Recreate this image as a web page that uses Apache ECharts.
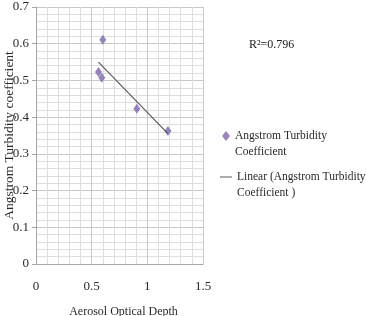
<!DOCTYPE html>
<html><head><meta charset="utf-8">
<script src="https://cdn.jsdelivr.net/npm/echarts@6/dist/echarts.min.js"></script>
<style>html,body{margin:0;padding:0;background:#fff}#c{width:366px;height:316px}</style>
</head><body><div id="c"></div>
<script>
var aodValues = [0.600, 0.561, 0.591, 0.906, 1.185];
var turbidityValues = [0.611, 0.523, 0.507, 0.423, 0.362];
var trendX = [0.561, 1.185];
var trendY = [0.550, 0.355];
var xTicks = [0, 0.5, 1, 1.5];
var yTicks = [0, 0.1, 0.2, 0.3, 0.4, 0.5, 0.6, 0.7];
var seriesNames = ['Angstrom Turbidity Coefficient', 'Linear (Angstrom Turbidity Coefficient )'];
var legendLabels = ['Angstrom Turbidity\nCoefficient', 'Linear (Angstrom Turbidity\nCoefficient )'];
var r2Text = 'R\u00B2=0.796';

var FONT = 'Liberation Serif';
var TXT = '#2a2a2a';
var scatterData = aodValues.map(function(x, i){ return [x, turbidityValues[i]]; });
var trendData = trendX.map(function(x, i){ return [x, trendY[i]]; });

var chart = echarts.init(document.getElementById('c'));
chart.setOption({
  animation: false,
  grid: {left: 36, right: 163, top: 7, bottom: 52, containLabel: false, outerBoundsMode: 'none'},
  xAxis: {
    type: 'value', min: xTicks[0], max: xTicks[xTicks.length-1], interval: 0.5,
    name: 'Aerosol Optical Depth', nameLocation: 'middle', nameGap: 42,
    nameTextStyle: {fontFamily: FONT, fontSize: 12, color: TXT, padding: [0, 0, 0, 8]},
    axisLine: {show: true, lineStyle: {color: '#a6a6a6'}},
    axisTick: {show: false},
    axisLabel: {margin: 16, fontFamily: FONT, fontSize: 13, color: TXT},
    splitLine: {show: true, lineStyle: {color: '#c8c8c8', width: 1}},
    minorTick: {show: false, splitNumber: 5},
    minorSplitLine: {show: true, lineStyle: {color: '#dedede', width: 1}}
  },
  yAxis: {
    type: 'value', min: yTicks[0], max: yTicks[yTicks.length-1], interval: 0.1,
    name: 'Angstrom Turbidity coefficient', nameLocation: 'middle', nameGap: 20,
    nameMoveOverlap: false,
    nameTextStyle: {fontFamily: FONT, fontSize: 13.5, color: TXT},
    axisLine: {show: true, lineStyle: {color: '#a6a6a6'}},
    axisTick: {show: true, length: 4, lineStyle: {color: '#a6a6a6'}},
    axisLabel: {margin: 7, fontFamily: FONT, fontSize: 13, color: TXT,
      formatter: function(v){ return String(Math.round(v*10)/10); }},
    splitLine: {show: true, lineStyle: {color: '#c8c8c8', width: 1}},
    minorTick: {show: false, splitNumber: 5},
    minorSplitLine: {show: true, lineStyle: {color: '#dedede', width: 1}}
  },
  legend: [{
    data: [{name: seriesNames[0], icon: 'path://M4,0L8,5L4,10L0,5Z M4,26L4,26'}],
    orient: 'vertical', left: 222, top: 128, padding: 0, itemWidth: 8, itemHeight: 26, itemGap: 6,
    formatter: function(){ return legendLabels[0]; },
    textStyle: {fontFamily: FONT, fontSize: 11.5, color: TXT, lineHeight: 16}
  },{
    data: [{name: seriesNames[1], icon: 'path://M0,0L12,0L12,1L0,1Z M0,17L0,17', itemStyle: {color: '#5a5a5a', borderWidth: 0}}],
    orient: 'vertical', left: 220, top: 169, padding: 0, itemWidth: 12, itemHeight: 17, itemGap: 6,
    formatter: function(){ return legendLabels[1]; },
    textStyle: {fontFamily: FONT, fontSize: 11.5, color: TXT, lineHeight: 16}
  }],
  graphic: [{
    type: 'text', left: 249, top: 39,
    style: {text: r2Text, fontFamily: FONT, fontSize: 12, fill: '#202020'}
  }],
  series: [{
    name: seriesNames[0], type: 'scatter', data: scatterData,
    symbol: 'diamond', symbolSize: [7, 10],
    itemStyle: {color: '#7b68aa'}
  },{
    name: seriesNames[1], type: 'line', data: trendData,
    symbol: 'none', lineStyle: {color: '#5a5a5a', width: 1.2},
    itemStyle: {color: '#5a5a5a'}
  }]
});
</script></body></html>
